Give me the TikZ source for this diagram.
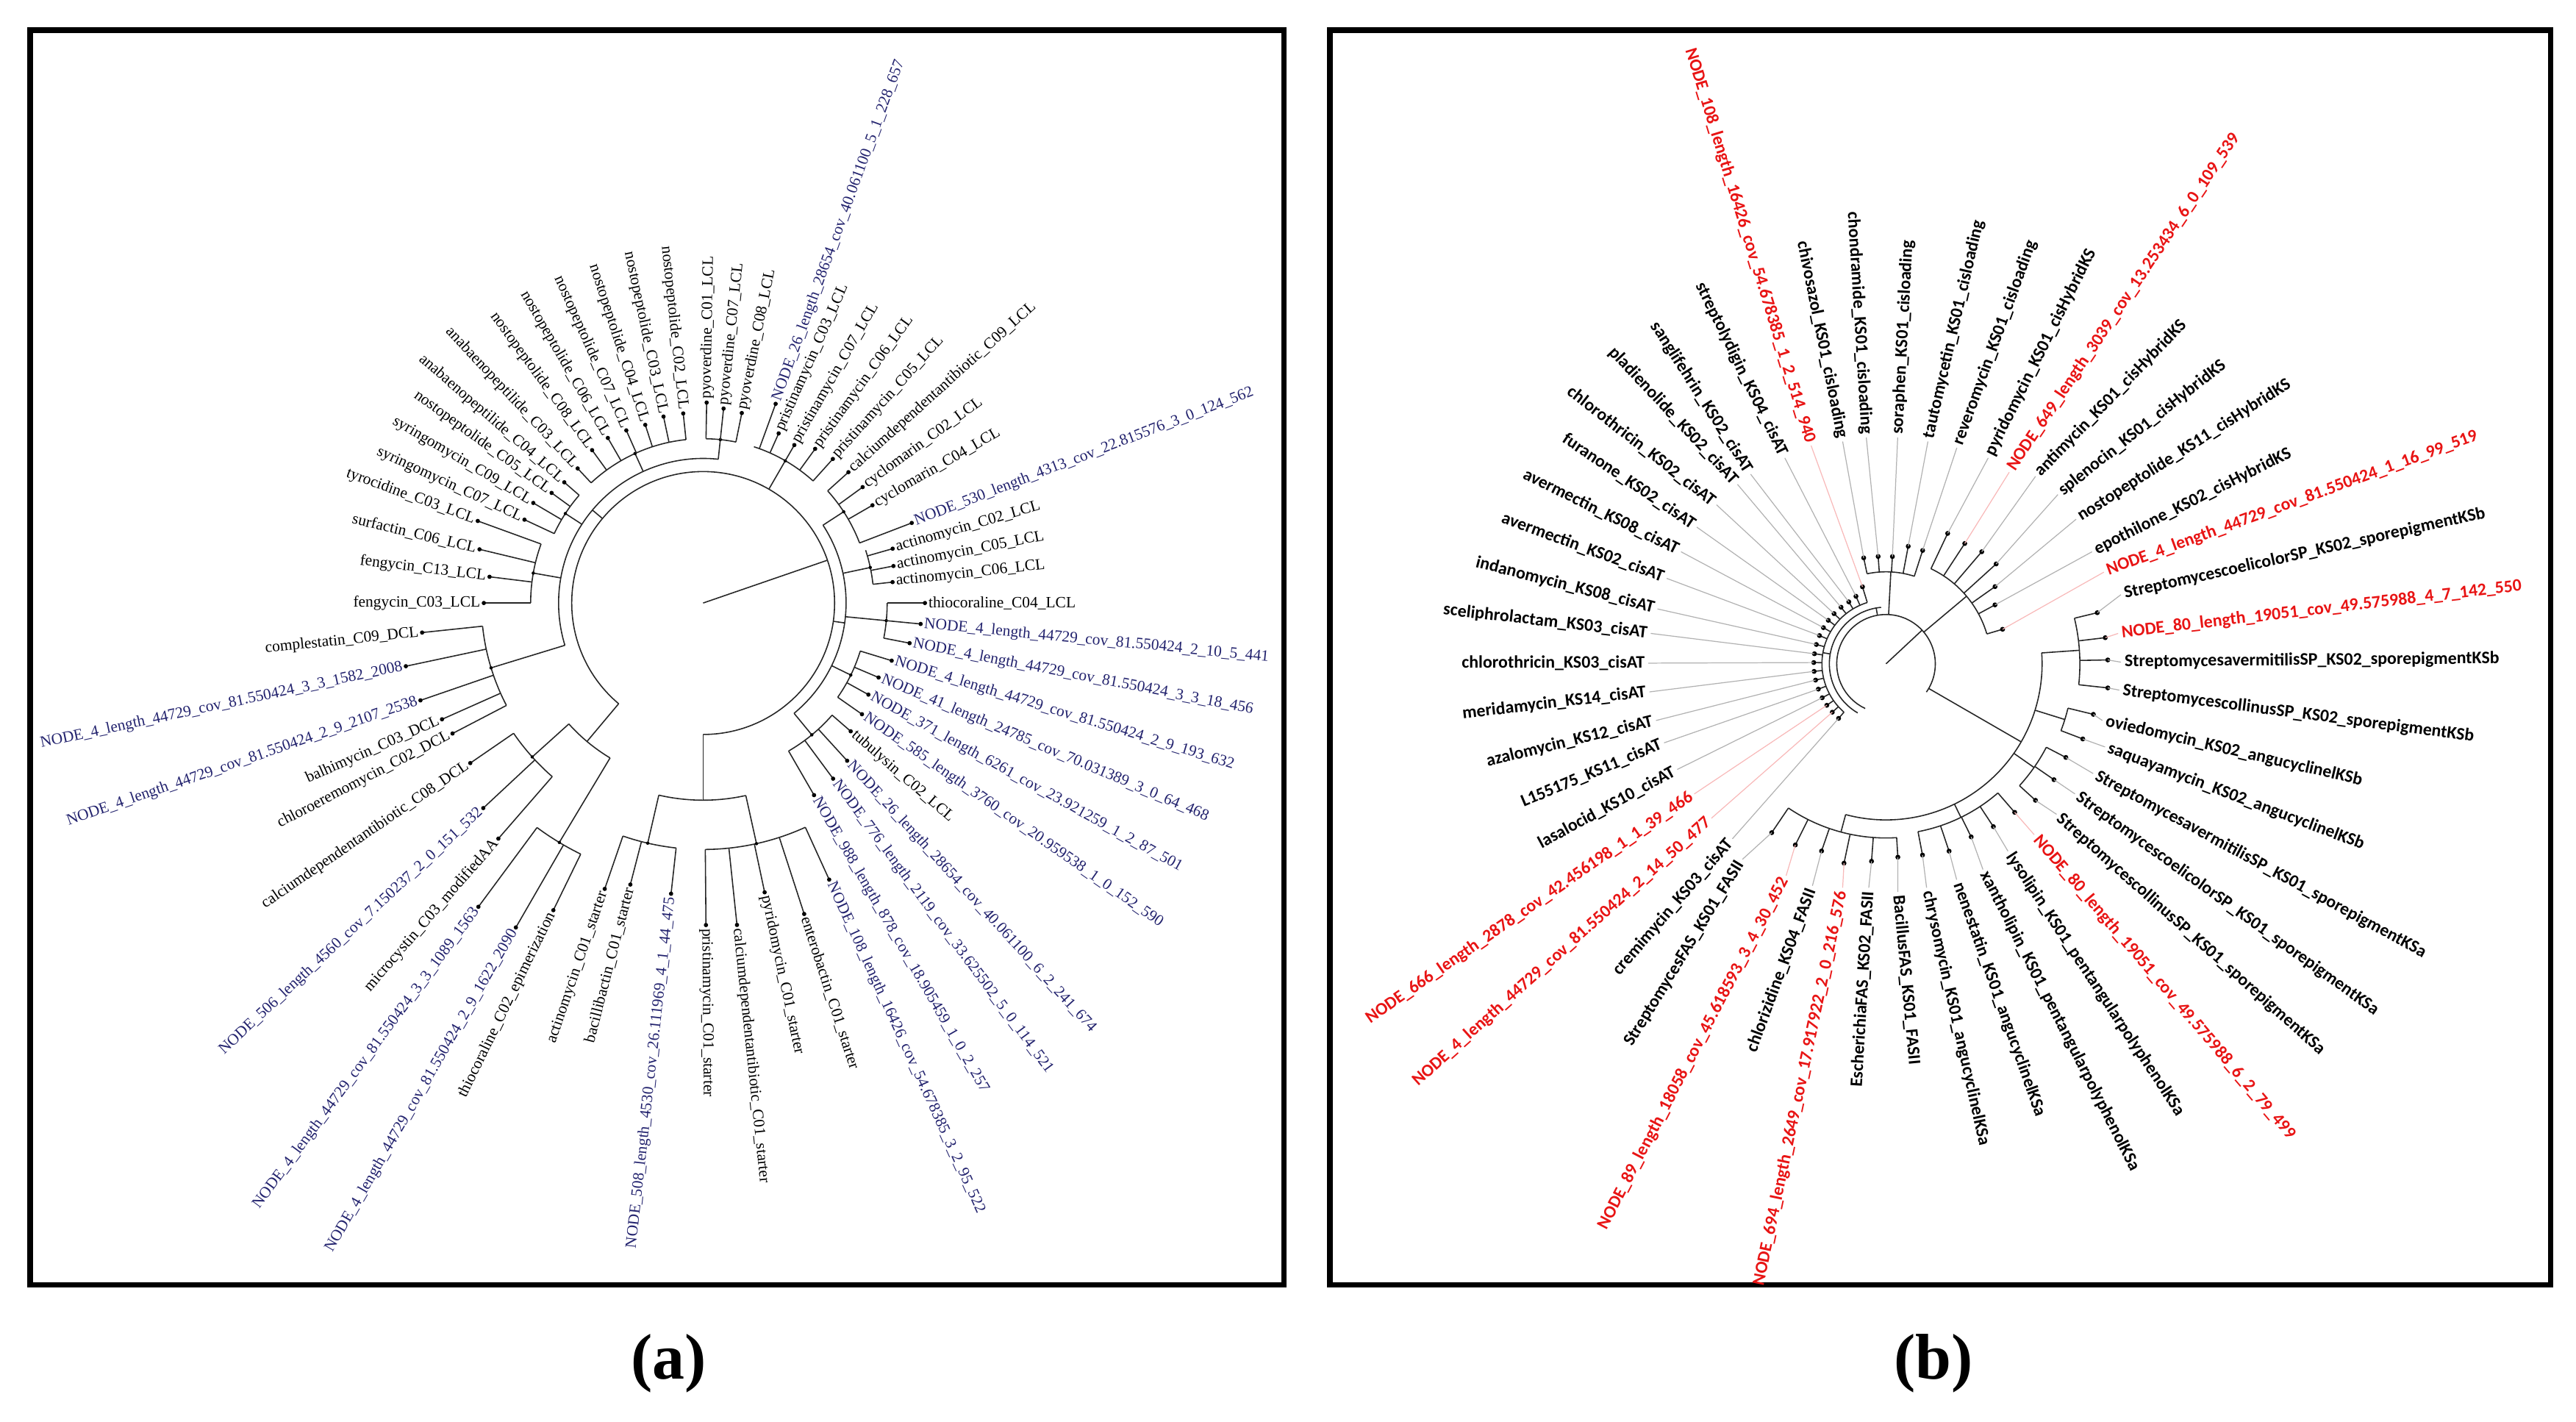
\documentclass[tikz,border=0pt]{standalone}
\usepackage{fontspec}
\setmainfont{Liberation Serif}
\newfontfamily\carlito{Carlito}
\definecolor{navy}{RGB}{35,35,110}
\definecolor{nodered}{RGB}{232,20,20}
\tikzset{
  branch/.style = {line width=0.45pt, black!85},
  frame/.style  = {line width=2.2pt},
  leafa/.style  = {font=\fontsize{6.1}{7}\selectfont, inner sep=1.2pt},
  leafb/.style  = {font=\carlito\bfseries\fontsize{6.8}{7}\selectfont, inner sep=1.2pt},
  leader/.style = {line width=0.35pt},
  panel/.style  = {font=\bfseries\fontsize{25}{28}\selectfont}
}

\begin{document}
\begin{tikzpicture}[x=0.022347cm, y=0.022347cm]
\useasboundingbox (0,0) rectangle (1568,-865);

% the two frames and their captions
\draw[frame] (18.5,-18.5) rectangle (781.5,-782);
\draw[frame] (809.5,-18.5) rectangle (1552.5,-782);
\node[panel] (capa) at (407,-830) {(a)};
\node[panel] (capb) at (1177,-830) {(b)};

%% ---------------- panel (a) ----------------
\coordinate (ca) at (428,-367);
\begin{scope}[shift={(ca)}]
\draw[branch] (0,0) -- (19:80);
\draw[branch] (-90:80) arc[start angle=-90, end angle=230, radius=80];
\draw[branch] (-50.5:87) arc[start angle=-50.5, end angle=33, radius=87];
\draw[branch] (84:88) arc[start angle=84, end angle=197, radius=88];
\draw[branch] (-103:120) arc[start angle=-103, end angle=-77.5, radius=120];
\draw[branch] (222:110) arc[start angle=222, end angle=239, radius=110];
\draw[branch] (-8:80) -- (-8:87);
\draw[branch] (140:80) -- (140:88);
\draw[branch] (-90:80) -- (-90:120);
\draw[branch] (230:80) -- (230:110);

% clades: from / to / radius / stem angle / stem base
\foreach \ga/\gb/\gr/\gm/\gbase in {
  78.5/89/100/84/88, 48/72/100/60/80, 21/42/102/33/87, 6.3/18/104/12/87,
  -11/0/112/-5.5/87, -35/-17/100/-26/87, -60/-41/104/-50.5/87,
  -89.5/-65.5/150/-77.5/120, 251/263.7/150/257/120,
  233.5/244/170/239/110, 214.5/229/140/222/110, 186/207.5/135/197/88,
  160/180/105/170/88, 139/155/100/147/88, 96/133/100/114.5/88}{
  \draw[branch] (\ga:\gr) arc[start angle=\ga, end angle=\gb, radius=\gr];
  \draw[branch] (\gm:\gbase) -- (\gm:\gr);
  \fill (\gm:\gr) circle (1);
}

% leaves on the right half
\foreach \ang/\rad/\rc/\txt/\col [count=\i] in {
  89/122/100/pyoverdine\_C01\_LCL/black,
  84/119/100/pyoverdine\_C07\_LCL/black,
  78.5/118/100/pyoverdine\_C08\_LCL/black,
  70/129/100/NODE\_26\_length\_28654\_cov\_40.061100\_5\_1\_228\_657/navy,
  66/113/100/pristinamycin\_C03\_LCL/black,
  60/111/100/pristinamycin\_C07\_LCL/black,
  54/116/100/pristinamycin\_C06\_LCL/black,
  48/118/100/pristinamycin\_C05\_LCL/black,
  42/119/102/calciumdependentantibiotic\_C09\_LCL/black,
  36/120/102/cyclomarin\_C02\_LCL/black,
  30/119/102/cyclomarin\_C04\_LCL/black,
  21/136/102/NODE\_530\_length\_4313\_cov\_22.815576\_3\_0\_124\_562/navy,
  16/120/104/actinomycin\_C02\_LCL/black,
  11/118/104/actinomycin\_C05\_LCL/black,
  6.3/116/104/actinomycin\_C06\_LCL/black,
  0/135/112/thiocoraline\_C04\_LCL/black,
  -5.5/133/112/NODE\_4\_length\_44729\_cov\_81.550424\_2\_10\_5\_441/navy,
  -11/128/112/NODE\_4\_length\_44729\_cov\_81.550424\_3\_3\_18\_456/navy,
  -17/120/100/NODE\_4\_length\_44729\_cov\_81.550424\_2\_9\_193\_632/navy,
  -23/116/100/NODE\_41\_length\_24785\_cov\_70.031389\_3\_0\_64\_468/navy,
  -29/115/100/NODE\_371\_length\_6261\_cov\_23.921259\_1\_2\_87\_501/navy,
  -35/118/100/NODE\_585\_length\_3760\_cov\_20.959538\_1\_0\_152\_590/navy,
  -41/119/104/tubulysin\_C02\_LCL/black,
  -47.6/130/104/NODE\_26\_length\_28654\_cov\_40.061100\_6\_2\_241\_674/navy,
  -53.5/133/104/NODE\_776\_length\_2119\_cov\_33.625502\_5\_0\_114\_521/navy,
  -60/135/104/NODE\_988\_length\_878\_cov\_18.905459\_1\_0\_2\_257/navy,
  -65.5/185/150/NODE\_108\_length\_16426\_cov\_54.678385\_3\_2\_95\_522/navy,
  -72/199/150/enterobactin\_C01\_starter/black,
  -78/180/150/pyridomycin\_C01\_starter/black,
  -84/197/150/calciumdependentantibiotic\_C01\_starter/black,
  -89.5/196/150/pristinamycin\_C01\_starter/black}{
  \draw[branch] (\ang:\rc) -- (\ang:\rad) coordinate (ta\i);
  \fill (ta\i) circle (1.3);
  \node[leafa, text=\col, anchor=west, rotate=\ang] (la\i) at (ta\i) {\txt};
}

% leaves on the left half
\foreach \ang/\rad/\rc/\txt/\col [count=\i, evaluate=\ang as \rot using \ang-180] in {
  263.7/178/150/NODE\_508\_length\_4530\_cov\_26.111969\_4\_1\_44\_475/navy,
  255.5/177/150/bacillibactin\_C01\_starter/black,
  251/184/150/actinomycin\_C01\_starter/black,
  244/208/170/thiocoraline\_C02\_epimerization/black,
  240/228/170/NODE\_4\_length\_44729\_cov\_81.550424\_2\_9\_1622\_2090/navy,
  233.5/230/170/NODE\_4\_length\_44729\_cov\_81.550424\_3\_3\_1089\_1563/navy,
  229/190/140/microcystin\_C03\_modifiedAA/black,
  223/183/140/NODE\_506\_length\_4560\_cov\_7.150237\_2\_0\_151\_532/navy,
  214.5/172/140/calciumdependentantibiotic\_C08\_DCL/black,
  207.5/172/135/chloroeremomycin\_C02\_DCL/black,
  204/174/135/balhimycin\_C03\_DCL/black,
  199/182/135/NODE\_4\_length\_44729\_cov\_81.550424\_2\_9\_2107\_2538/navy,
  192/185/135/NODE\_4\_length\_44729\_cov\_81.550424\_3\_3\_1582\_2008/navy,
  186/172/135/complestatin\_C09\_DCL/black,
  180/133.5/105/fengycin\_C03\_LCL/black,
  173/131/105/fengycin\_C13\_LCL/black,
  166.5/140/105/surfactin\_C06\_LCL/black,
  160/146/105/tyrocidine\_C03\_LCL/black,
  155/120/100/syringomycin\_C07\_LCL/black,
  149.5/120/100/syringomycin\_C09\_LCL/black,
  144/114/100/nostopeptolide\_C05\_LCL/black,
  139/112/100/anabaenopeptilide\_C04\_LCL/black,
  133/112/100/anabaenopeptilide\_C03\_LCL/black,
  126/115/100/nostopeptolide\_C08\_LCL/black,
  120/116/100/nostopeptolide\_C06\_LCL/black,
  114/115/100/nostopeptolide\_C07\_LCL/black,
  108/114/100/nostopeptolide\_C04\_LCL/black,
  102/116/100/nostopeptolide\_C03\_LCL/black,
  96/116/100/nostopeptolide\_C02\_LCL/black}{
  \draw[branch] (\ang:\rc) -- (\ang:\rad) coordinate (tl\i);
  \fill (tl\i) circle (1.3);
  \node[leafa, text=\col, anchor=east, rotate=\rot] (ll\i) at (tl\i) {\txt};
}
\end{scope}

%% ---------------- panel (b) ----------------
\coordinate (cb) at (1148,-404);
\begin{scope}[shift={(cb)}]
\draw[branch] (0,0) -- (43:30);
\draw[branch] (-35:30) arc[start angle=-35, end angle=245, radius=30];
\draw[branch] (95:34.5) arc[start angle=95, end angle=240, radius=34.5];
\draw[branch] (107:39) arc[start angle=107, end angle=229, radius=39];
\draw[branch] (100:30) -- (100:34.5);
\draw[branch] (170:34.5) -- (170:39);
\draw[branch] (-30:30) -- (-30:95);
\draw[branch] (-105:95) arc[start angle=-105, end angle=4, radius=95];
\foreach \ga/\gb/\gr/\gm/\gbase in {
  72.1/101.9/56/87/30, 16.5/64.7/64/40/30, -6.2/13.6/118/4/95,
  -20.9/-13.7/114/-17.3/95, -42.4/-27.5/110/-35/95,
  -79.2/-49.1/104/-64/95, -124.1/-86.5/106/-105/95}{
  \draw[branch] (\ga:\gr) arc[start angle=\ga, end angle=\gb, radius=\gr];
  \draw[branch] (\gm:\gbase) -- (\gm:\gr);
}
\end{scope}

% leaves on the right half: tip angle / tip radius / clade radius / label x / label y / label angle
\foreach \ang/\rad/\rc/\lx/\ly/\la/\txt/\col [count=\i] in {
  86.6/65.4/56/1155.1/266.3/87/soraphen\_KS01\_cisloading/black,
  79.3/72.8/56/1173.5/268.7/77/tautomycetin\_KS01\_cisloading/black,
  72.1/72.5/56/1191.1/272.5/70/reveromycin\_KS01\_cisloading/black,
  64.7/87.8/64/1210.2/278.7/63.5/pyridomycin\_KS01\_cisHybridKS/black,
  56.8/87.5/64/1223/287.4/56/NODE\_649\_length\_3039\_cov\_13.253434\_6\_0\_109\_539/nodered,
  49.5/89.7/64/1239/289.9/46/antimycin\_KS01\_cisHybridKS/black,
  42.2/90.5/64/1252.6/301/38.3/splenocin\_KS01\_cisHybridKS/black,
  35.3/81.3/64/1263.7/316/32.6/nostopeptolide\_KS11\_cisHybridKS/black,
  28.4/75.4/64/1273.4/335.8/26.6/epothilone\_KS02\_cisHybridKS/black,
  16.5/74/64/1280.6/348.2/20.1/NODE\_4\_length\_44729\_cov\_81.550424\_1\_16\_99\_519/nodered,
  13.6/132.3/118/1291/361.9/12.6/StreptomycescoelicolorSP\_KS02\_sporepigmentKSb/black,
  6.8/134.4/118/1289.3/385.5/6.7/NODE\_80\_length\_19051\_cov\_49.575988\_4\_7\_142\_550/nodered,
  1/135/118/1291/403/0.5/StreptomycesavermitilisSP\_KS02\_sporepigmentKSb/black,
  -6.2/135.8/118/1290/420/-7.5/StreptomycescollinusSP\_KS02\_sporepigmentKSb/black,
  -13.7/129.9/114/1279.7/438.5/-13.1/oviedomycin\_KS02\_angucyclinelKSb/black,
  -20.9/128.2/114/1281.3/454.6/-20.8/saquayamycin\_KS02\_angucyclinelKSb/black,
  -27.5/123.4/110/1274.1/470.8/-28.5/StreptomycesavermitilisSP\_KS01\_sporepigmentKSa/black,
  -34.6/124.2/110/1263/483.2/-35.8/StreptomycescoelicolorSP\_KS01\_sporepigmentKSa/black,
  -42.4/123.2/110/1251.8/495.6/-41.7/StreptomycescollinusSP\_KS01\_sporepigmentKSa/black,
  -49.1/119.6/104/1238.2/508/-49.5/NODE\_80\_length\_19051\_cov\_49.575988\_6\_2\_79\_499/nodered,
  -56.6/118.7/104/1222.2/518/-56.7/lysolipin\_KS01\_pentangularpolyphenolKSa/black,
  -63.8/117.4/104/1207/529.2/-63.1/xantholipin\_KS01\_pentangularpolyphenolKSa/black,
  -71.4/120.3/104/1191/535.4/-70.5/nenestatin\_KS01\_angucyclinelKSa/black,
  -79.2/118.5/104/1172.7/540.3/-77.4/chrysomycin\_KS01\_angucyclinelKSa/black,
  -86.5/117.9/106/1155.2/542.8/-84.6/BacillusFAS\_KS01\_FASII/black}{
  \draw[branch, shift={(cb)}] (\ang:\rc) -- (\ang:\rad) coordinate (tr\i);
  \fill (tr\i) circle (1.5);
  \node[leafb, text=\col, anchor=west, rotate=\la] (rr\i) at (\lx,-\ly) {\txt};
  \draw[leader, \col!30] (tr\i) -- (rr\i.west);
}

% leaves on the left half
\foreach \ang/\rad/\rc/\lx/\ly/\la/\txt/\col [count=\i, evaluate=\la as \rot using \la-180] in {
  -94.2/120.5/106/1137.5/540.3/266.6/EscherichiaFAS\_KS02\_FASII/black,
  -101.9/124/106/1121.6/540.3/258.1/NODE\_694\_length\_2649\_cov\_17.917922\_2\_0\_216\_576/nodered,
  -109/120.5/106/1103.2/539.1/249.8/chlorizidine\_KS04\_FASII/black,
  -116.6/123.3/106/1087.2/532.9/242.5/NODE\_89\_length\_18058\_cov\_45.618593\_3\_4\_30\_452/nodered,
  -124.1/124.1/106/1060.6/523/238.5/StreptomycesFAS\_KS01\_FASII/black,
  229/44/39/1054.5/510.5/229/cremimycin\_KS03\_cisAT/black,
  222/44/39/1041.7/498/221.8/NODE\_4\_length\_44729\_cov\_81.550424\_2\_14\_50\_477/nodered,
  215/44/39/1031.3/483.2/214.7/NODE\_666\_length\_2878\_cov\_42.456198\_1\_1\_39\_466/nodered,
  208/44/39/1020.9/468.3/208.5/lasalocid\_KS10\_cisAT/black,
  200.5/44/39/1012.9/452.1/202.8/L155175\_KS11\_cisAT/black,
  193/44/39/1008/438.5/193.8/azalomycin\_KS12\_cisAT/black,
  186/44/39/1004/421.1/186.7/meridamycin\_KS14\_cisAT/black,
  179/44/39/1003.3/403.6/180/chlorothricin\_KS03\_cisAT/black,
  172/44/39/1004.8/385.5/173.5/sceliphrolactam\_KS03\_cisAT/black,
  164.5/44/39/1008.9/370.6/165.6/indanomycin\_KS08\_cisAT/black,
  157/44/39/1014.5/352/159.8/avermectin\_KS02\_cisAT/black,
  150/44/39/1023.2/335.8/153.5/avermectin\_KS08\_cisAT/black,
  143/44/39/1032.8/320.8/146/furanone\_KS02\_cisAT/black,
  136/44/39/1044.8/307.2/142/chlorothricin\_KS02\_cisAT/black,
  128.5/44/39/1057.6/294.8/133/pladienolide\_KS02\_cisAT/black,
  121/44/39/1065.6/288.6/122.6/sanglifehrin\_KS02\_cisAT/black,
  114/45/39/1086.4/278.7/116/streptolydigin\_KS04\_cisAT/black,
  107/49/39/1102.4/271.2/107/NODE\_108\_length\_16426\_cov\_54.678385\_1\_2\_514\_940/nodered,
  101.9/65.9/56/1121.6/268.7/101.5/chivosazol\_KS01\_cisloading/black,
  94.2/65.5/56/1136/266.3/93.5/chondramide\_KS01\_cisloading/black}{
  \draw[branch, shift={(cb)}] (\ang:\rc) -- (\ang:\rad) coordinate (tq\i);
  \fill (tq\i) circle (1.5);
  \node[leafb, text=\col, anchor=east, rotate=\rot] (rq\i) at (\lx,-\ly) {\txt};
  \draw[leader, \col!30] (tq\i) -- (rq\i.east);
}

\end{tikzpicture}
\end{document}
